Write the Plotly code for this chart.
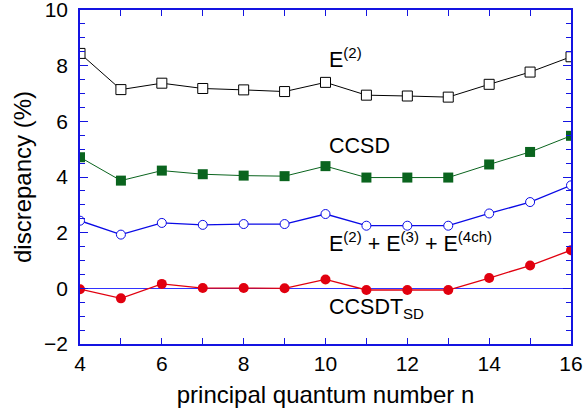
import plotly.graph_objects as go

n = [4, 5, 6, 7, 8, 9, 10, 11, 12, 13, 14, 15, 16]
e2 = [8.44, 7.14, 7.37, 7.18, 7.13, 7.07, 7.40, 6.94, 6.91, 6.87, 7.33, 7.77, 8.32]
ccsd = [4.71, 3.87, 4.23, 4.10, 4.05, 4.03, 4.39, 3.98, 3.98, 3.98, 4.45, 4.90, 5.48]
e234 = [2.43, 1.93, 2.35, 2.28, 2.31, 2.31, 2.67, 2.25, 2.25, 2.25, 2.69, 3.10, 3.70]
ccsdt = [-0.03, -0.36, 0.16, 0.01, 0.01, 0.0, 0.32, -0.06, -0.06, -0.06, 0.37, 0.82, 1.37]

labels = ["E<sup>(2)</sup>", "CCSD", "E<sup>(2)</sup> + E<sup>(3)</sup> + E<sup>(4ch)</sup>", "CCSDT<sub>SD</sub>"]
label_x = [10.04, 10.04, 10.04, 10.04]
label_y = [8.28, 5.12, 1.67, -0.71]

FONT = "Liberation Sans, Arial, sans-serif"
BLUE = "rgb(20,20,225)"

fig = go.Figure()
fig.add_trace(go.Scatter(x=n, y=e2, mode="lines+markers",
                         line=dict(color="black", width=1),
                         marker=dict(symbol="square", size=10, color="white",
                                     line=dict(color="black", width=1))))
fig.add_trace(go.Scatter(x=n, y=ccsd, mode="lines+markers",
                         line=dict(color="rgb(10,100,30)", width=1),
                         marker=dict(symbol="square", size=10, color="rgb(10,100,30)")))
fig.add_trace(go.Scatter(x=n, y=e234, mode="lines+markers",
                         line=dict(color="rgb(10,10,230)", width=1.3),
                         marker=dict(symbol="circle", size=9, color="white",
                                     line=dict(color="rgb(10,10,230)", width=1))))
fig.add_trace(go.Scatter(x=n, y=ccsdt, mode="lines+markers",
                         line=dict(color="rgb(225,0,15)", width=1.3),
                         marker=dict(symbol="circle", size=10, color="rgb(225,0,15)")))

for t, x, y in zip(labels, label_x, label_y):
    fig.add_annotation(x=x, y=y, text=t, showarrow=False, xanchor="left",
                       yanchor="middle", font=dict(family=FONT, size=21.5, color="black"))

fig.update_layout(
    width=585, height=413,
    margin=dict(l=80, r=14, t=10, b=69),
    plot_bgcolor="white", paper_bgcolor="white",
    showlegend=False,
    font=dict(family=FONT, size=21, color="black"),
    xaxis=dict(range=[4, 16], tickmode="linear", tick0=4, dtick=2,
               automargin=False, ticklabeloverflow="allow",
               ticks="inside", ticklen=6, tickcolor=BLUE, tickwidth=1,
               minor=dict(dtick=1, ticklen=6, tickcolor=BLUE, ticks="inside", showgrid=False),
               showline=True, linecolor=BLUE, linewidth=1.5, mirror="ticks",
               showgrid=False, zeroline=False,
               title=dict(text="principal quantum number n", standoff=12,
                          font=dict(family=FONT, size=24)),
               tickfont=dict(family=FONT, size=21)),
    yaxis=dict(range=[-2, 10], tickmode="linear", tick0=-2, dtick=2,
               automargin=False, ticklabeloverflow="allow",
               ticks="inside", ticklen=8, tickcolor=BLUE, tickwidth=1,
               minor=dict(dtick=0.5, ticklen=5, tickcolor=BLUE, ticks="inside", showgrid=False),
               showline=True, linecolor=BLUE, linewidth=1.5, mirror="ticks",
               showgrid=False, zeroline=True, zerolinecolor="rgb(50,50,255)", zerolinewidth=1,
               tickformat="d", ticklabelstandoff=6,
               title=dict(text="discrepancy (%)", standoff=6,
                          font=dict(family=FONT, size=24)),
               tickfont=dict(family=FONT, size=21)),
)

fig.write_html("out.html")
